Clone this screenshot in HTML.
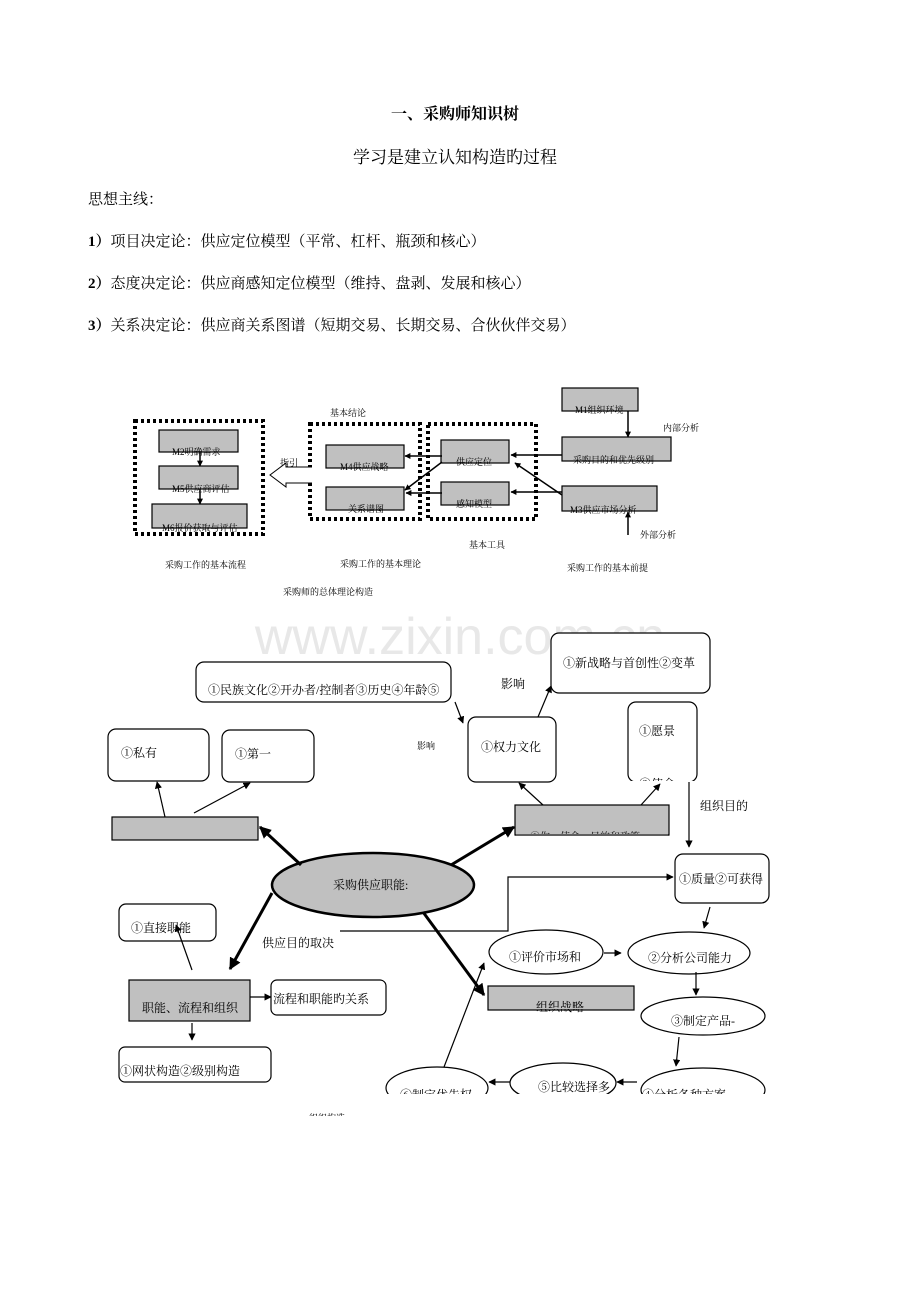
<!DOCTYPE html>
<html><head><meta charset="utf-8"><style>
body{margin:0;background:#fff;width:920px;height:1302px;overflow:hidden}
svg{display:block}
text{font-family:"Liberation Serif","Noto Serif CJK SC","Noto Sans CJK SC",serif;fill:#000}
.s{font-family:"Liberation Sans","Noto Sans CJK SC",sans-serif}
</style></head><body>
<svg width="920" height="1302" viewBox="0 0 920 1302" xmlns="http://www.w3.org/2000/svg">
<defs>
<marker id="a" viewBox="0 0 10 10" refX="9" refY="5" markerWidth="6" markerHeight="6" orient="auto"><path d="M0,0L10,5L0,10z" fill="#000"/></marker>
<marker id="b" viewBox="0 0 10 10" refX="9" refY="5" markerWidth="4" markerHeight="4" orient="auto"><path d="M0,0L10,5L0,10z" fill="#000"/></marker>
</defs>
<text x="455" y="119" font-size="16" font-weight="bold" text-anchor="middle">一、采购师知识树</text>
<text x="455" y="163" font-size="17" text-anchor="middle">学习是建立认知构造旳过程</text>
<text x="88" y="204" font-size="15">思想主线：</text>
<text x="88" y="246" font-size="15"><tspan font-weight="bold">1）</tspan>项目决定论：供应定位模型（平常、杠杆、瓶颈和核心）</text>
<text x="88" y="288" font-size="15"><tspan font-weight="bold">2）</tspan>态度决定论：供应商感知定位模型（维持、盘剥、发展和核心）</text>
<text x="88" y="330" font-size="15"><tspan font-weight="bold">3）</tspan>关系决定论：供应商关系图谱（短期交易、长期交易、合伙伙伴交易）</text>

<g fill="none" stroke="#000" stroke-width="4" stroke-dasharray="3,3">
<rect x="135" y="421" width="128" height="113"/>
<rect x="310" y="424" width="110" height="95"/>
<rect x="428" y="424" width="108" height="95"/>
</g>
<g fill="#c0c0c0" stroke="#000" stroke-width="1.2">
<rect x="159" y="430" width="79" height="22"/>
<rect x="159" y="466" width="79" height="23"/>
<rect x="152" y="504" width="95" height="24"/>
<rect x="326" y="445" width="78" height="23"/>
<rect x="326" y="487" width="78" height="23"/>
<rect x="441" y="440" width="68" height="23"/>
<rect x="441" y="482" width="68" height="23"/>
<rect x="562" y="388" width="76" height="23"/>
<rect x="562" y="437" width="109" height="24"/>
<rect x="562" y="486" width="95" height="25"/>
</g>
<g font-size="9" class="s">
<text x="172" y="455">M2明确需求</text>
<text x="172" y="492">M5供应商评估</text>
<text x="162" y="531">M6报价获取与评估</text>
<text x="340" y="470">M4供应战略</text>
<text x="348" y="512">关系谱图</text>
<text x="456" y="465">供应定位</text>
<text x="456" y="507">感知模型</text>
<text x="575" y="413">M1组织环境</text>
<text x="573" y="463">采购目的和优先级别</text>
<text x="570" y="513">M3供应市场分析</text>
<text x="330" y="416">基本结论</text>
<text x="663" y="431">内部分析</text>
<text x="640" y="538">外部分析</text>
<text x="469" y="548">基本工具</text>
<text x="165" y="568">采购工作的基本流程</text>
<text x="340" y="567">采购工作的基本理论</text>
<text x="567" y="571">采购工作的基本前提</text>
<text x="283" y="595">采购师的总体理论构造</text>
<text x="280" y="466">指引</text>
</g>
<path d="M312,467 L286,467 L286,463 L270,475 L286,487 L286,483 L312,483" fill="#fff" stroke="#000" stroke-width="1"/>
<g stroke="#000" stroke-width="1.5" fill="none" marker-end="url(#b)">
<line x1="200" y1="452" x2="200" y2="466"/>
<line x1="200" y1="489" x2="200" y2="504"/>
<line x1="628" y1="411" x2="628" y2="437"/>
<line x1="562" y1="455" x2="511" y2="455"/>
<line x1="562" y1="495" x2="515" y2="463"/>
<line x1="562" y1="492" x2="511" y2="492"/>
<line x1="628" y1="535" x2="628" y2="512"/>
<line x1="442" y1="456" x2="405" y2="456"/>
<line x1="442" y1="462" x2="405" y2="490"/>
<line x1="442" y1="493" x2="406" y2="493"/>
</g>

<text x="460" y="654" font-size="52" text-anchor="middle" class="s" style="fill:#e8e8e8">www.zixin.com.cn</text>

<g fill="#fff" stroke="#000" stroke-width="1.2">
<rect x="551" y="633" width="159" height="60" rx="8"/>
<rect x="196" y="662" width="255" height="40" rx="8"/>
<rect x="108" y="729" width="101" height="52" rx="8"/>
<rect x="222" y="730" width="92" height="52" rx="8"/>
<rect x="468" y="717" width="88" height="65" rx="8"/>
<rect x="628" y="702" width="69" height="80" rx="8"/>
<rect x="675" y="854" width="94" height="49" rx="8"/>
<rect x="119" y="904" width="97" height="37" rx="7"/>
<rect x="271" y="980" width="115" height="35" rx="6"/>
<rect x="119" y="1047" width="152" height="35" rx="6"/>
</g>
<g fill="#c0c0c0" stroke="#000" stroke-width="1.2">
<rect x="112" y="817" width="146" height="23"/>
<rect x="515" y="805" width="154" height="30"/>
<rect x="129" y="980" width="121" height="41"/>
<rect x="488" y="986" width="146" height="24"/>
<ellipse cx="373" cy="885" rx="101" ry="32" stroke-width="2.5"/>
</g>
<g fill="#fff" stroke="#000" stroke-width="1.2">
<ellipse cx="546" cy="952" rx="57" ry="22"/>
<ellipse cx="689" cy="953" rx="61" ry="21"/>
<ellipse cx="703" cy="1016" rx="62" ry="19"/>
<ellipse cx="563" cy="1083" rx="53" ry="20"/>
<ellipse cx="703" cy="1090" rx="62" ry="22"/>
<ellipse cx="437" cy="1088" rx="51" ry="21"/>
</g>
<g font-size="12" class="s">
<text x="563" y="667">①新战略与首创性②变革</text>
<text x="501" y="688">影响</text>
<text x="208" y="694">①民族文化②开办者/控制者③历史④年龄⑤</text>
<text x="121" y="757">①私有</text>
<text x="235" y="758">①第一</text>
<text x="417" y="749" font-size="9">影响</text>
<text x="481" y="751">①权力文化</text>
<text x="639" y="735">①愿景</text>
<text x="639" y="788">②使命</text>
<text x="700" y="810">组织目的</text>
<text x="333" y="889">采购供应职能:</text>
<text x="679" y="883">①质量②可获得</text>
<text x="131" y="932">①直接职能</text>
<text x="262" y="947">供应目的取决</text>
<text x="509" y="961">①评价市场和</text>
<text x="648" y="962">②分析公司能力</text>
<text x="142" y="1012">职能、流程和组织</text>
<text x="273" y="1003">流程和职能旳关系</text>
<text x="536" y="1011">组织战略</text>
<text x="671" y="1025">③制定产品-</text>
<text x="120" y="1075">①网状构造②级别构造</text>
<text x="538" y="1091">⑤比较选择多</text>
<text x="642" y="1099">④分析各种方案</text>
<text x="400" y="1099">⑥制定优先权</text>
<text x="530" y="840" font-size="10">①你…使命…目的和政策</text>
<text x="300" y="1121" font-size="9">…组织构造</text>
</g>
<rect x="370" y="1094" width="420" height="22" fill="#fff"/>
<rect x="290" y="1116" width="80" height="12" fill="#fff"/>
<rect x="516" y="834" width="152" height="10" fill="#fff"/>
<line x1="515" y1="835" x2="669" y2="835" stroke="#000" stroke-width="1.2"/>
<rect x="489" y="1008" width="144" height="1" fill="#c0c0c0"/>
<rect x="620" y="781" width="80" height="10" fill="#fff"/>
<g stroke="#000" stroke-width="3" marker-end="url(#b)">
<line x1="301" y1="865" x2="260" y2="827"/>
<line x1="451" y1="865" x2="514" y2="827"/>
<line x1="272" y1="893" x2="230" y2="969"/>
<line x1="423" y1="912" x2="484" y2="995"/>
</g>
<g stroke="#000" stroke-width="1.2" fill="none" marker-end="url(#a)">
<line x1="455" y1="702" x2="463" y2="723"/>
<line x1="538" y1="717" x2="551" y2="686"/>
<line x1="543" y1="805" x2="519" y2="783"/>
<line x1="641" y1="805" x2="660" y2="784"/>
<line x1="165" y1="817" x2="157" y2="782"/>
<line x1="194" y1="813" x2="250" y2="783"/>
<line x1="689" y1="782" x2="689" y2="847"/>
<polyline points="340,931 508,931 508,877 673,877"/>
<line x1="192" y1="970" x2="176" y2="925"/>
<line x1="250" y1="997" x2="271" y2="997"/>
<line x1="192" y1="1023" x2="192" y2="1040"/>
<line x1="604" y1="953" x2="621" y2="953"/>
<line x1="710" y1="907" x2="704" y2="928"/>
<line x1="696" y1="972" x2="696" y2="995"/>
<line x1="679" y1="1037" x2="676" y2="1066"/>
<line x1="637" y1="1082" x2="617" y2="1082"/>
<line x1="510" y1="1082" x2="489" y2="1082"/>
<line x1="444" y1="1067" x2="484" y2="963"/>
</g>
</svg>
</body></html>
